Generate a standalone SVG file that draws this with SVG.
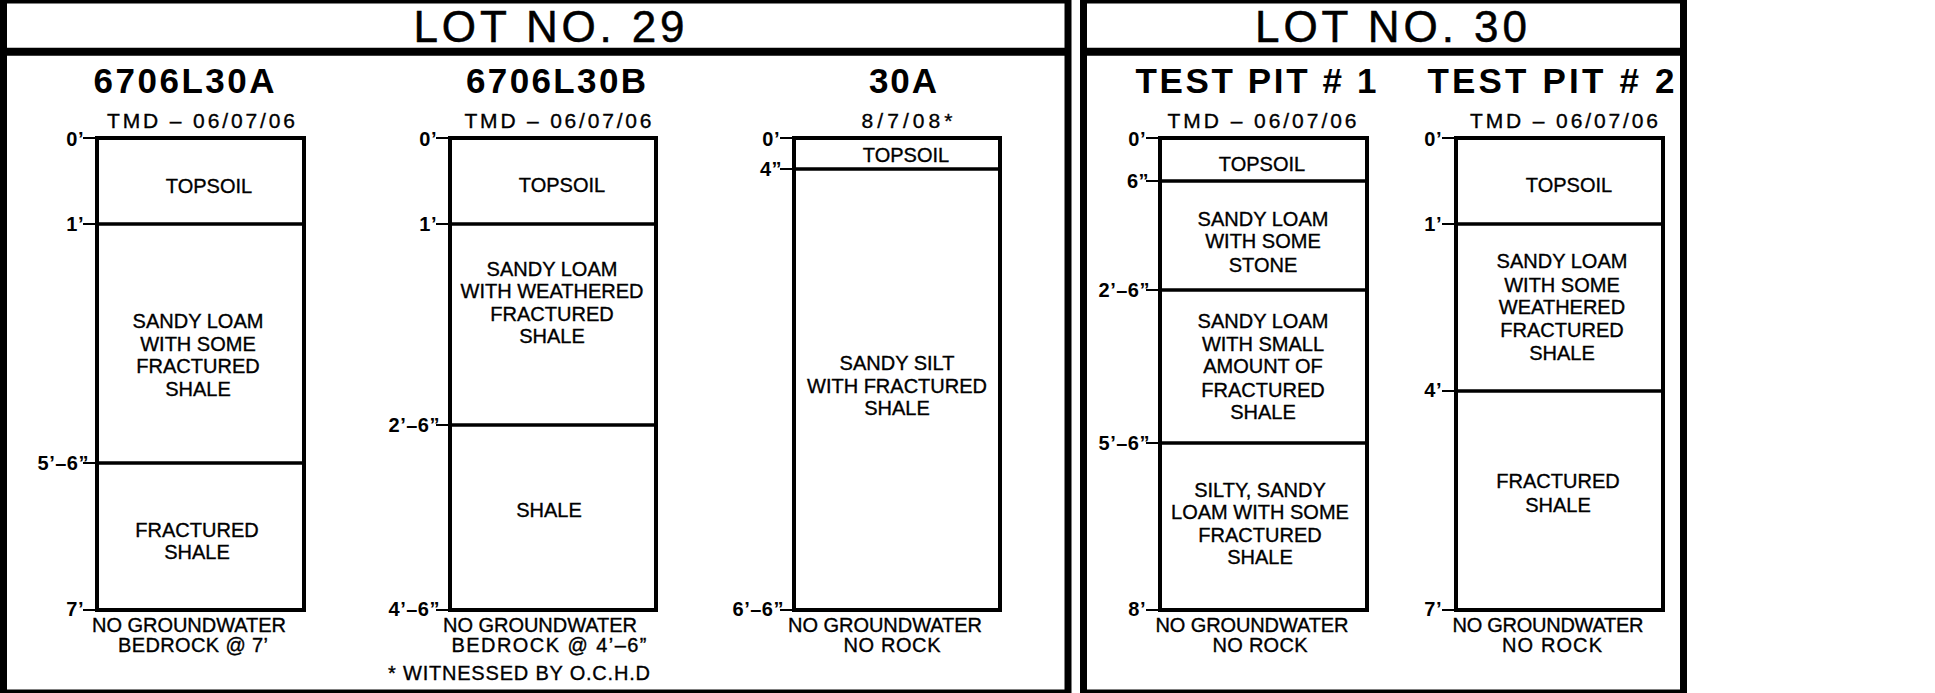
<svg xmlns="http://www.w3.org/2000/svg" width="1935" height="693" viewBox="0 0 1935 693">
<style>
.frame{fill:none;stroke:#000;stroke-width:7}
.div{stroke:#000;stroke-width:8}
.box{fill:none;stroke:#000;stroke-width:4}
.layer{stroke:#000;stroke-width:3.5}
.tick{stroke:#000;stroke-width:2}
text{font-family:"Liberation Sans",Arial,sans-serif;fill:#000}
.t{font-size:20px;text-anchor:middle;stroke:#000;stroke-width:0.35}
.d{font-size:21px;text-anchor:middle;stroke:#000;stroke-width:0.35}
.title{font-size:44px;text-anchor:middle;stroke:#000;stroke-width:0.5}
.hdr{font-size:35px;font-weight:bold;text-anchor:middle}
.dep{font-size:20px;font-weight:bold;text-anchor:end;letter-spacing:0.5px}
</style>
<rect width="1935" height="693" fill="#fff"/>
<g id="lot29-frame">
<rect class="frame" x="3.5" y="0" width="1064.5" height="693"/>
<line class="div" x1="3.5" y1="51.7" x2="1068" y2="51.7"/>
<text class="title" x="549" y="42" textLength="271" lengthAdjust="spacing">LOT NO. 29</text>
<text class="t" x="519" y="680" textLength="262" lengthAdjust="spacing">* WITNESSED BY O.C.H.D</text>
</g>
<g id="lot30-frame">
<rect class="frame" x="1083.5" y="0" width="600" height="693"/>
<line class="div" x1="1083.5" y1="51.7" x2="1683.5" y2="51.7"/>
<text class="title" x="1391" y="42" textLength="272" lengthAdjust="spacing">LOT NO. 30</text>
</g>
<g id="boring-6706L30A">
<text class="hdr" x="184" y="93" textLength="181" lengthAdjust="spacing">6706L30A</text>
<text class="d" x="201" y="128" textLength="188" lengthAdjust="spacing">TMD – 06/07/06</text>
<rect class="box" x="97" y="138" width="207" height="472"/>
<line class="layer" x1="97" y1="224" x2="304" y2="224"/>
<line class="layer" x1="97" y1="463" x2="304" y2="463"/>
<line class="tick" x1="83" y1="138" x2="97" y2="138"/>
<line class="tick" x1="83" y1="224" x2="97" y2="224"/>
<line class="tick" x1="83" y1="463" x2="97" y2="463"/>
<line class="tick" x1="83" y1="610" x2="97" y2="610"/>
<text class="dep" x="84" y="146">0’</text>
<text class="dep" x="84" y="231">1’</text>
<text class="dep" x="89" y="470">5’–6”</text>
<text class="dep" x="84" y="616">7’</text>
<text class="t" x="209" y="193">TOPSOIL</text>
<text class="t" x="198" y="328">SANDY LOAM</text>
<text class="t" x="198" y="351">WITH SOME</text>
<text class="t" x="198" y="373">FRACTURED</text>
<text class="t" x="198" y="396">SHALE</text>
<text class="t" x="197" y="537">FRACTURED</text>
<text class="t" x="197" y="559">SHALE</text>
<text class="t" x="189" y="632" textLength="194" lengthAdjust="spacing">NO GROUNDWATER</text>
<text class="t" x="193" y="652" textLength="150" lengthAdjust="spacing">BEDROCK @ 7’</text>
</g>
<g id="boring-6706L30B">
<text class="hdr" x="556" y="93" textLength="180" lengthAdjust="spacing">6706L30B</text>
<text class="d" x="558" y="128" textLength="187" lengthAdjust="spacing">TMD – 06/07/06</text>
<rect class="box" x="450" y="138" width="206" height="472"/>
<line class="layer" x1="450" y1="224" x2="656" y2="224"/>
<line class="layer" x1="450" y1="425" x2="656" y2="425"/>
<line class="tick" x1="436" y1="138" x2="450" y2="138"/>
<line class="tick" x1="436" y1="224" x2="450" y2="224"/>
<line class="tick" x1="436" y1="425" x2="450" y2="425"/>
<line class="tick" x1="436" y1="610" x2="450" y2="610"/>
<text class="dep" x="437" y="146">0’</text>
<text class="dep" x="437" y="231">1’</text>
<text class="dep" x="440" y="432">2’–6”</text>
<text class="dep" x="440" y="616">4’–6”</text>
<text class="t" x="562" y="192">TOPSOIL</text>
<text class="t" x="552" y="276">SANDY LOAM</text>
<text class="t" x="552" y="298">WITH WEATHERED</text>
<text class="t" x="552" y="321">FRACTURED</text>
<text class="t" x="552" y="343">SHALE</text>
<text class="t" x="549" y="517">SHALE</text>
<text class="t" x="540" y="632" textLength="194" lengthAdjust="spacing">NO GROUNDWATER</text>
<text class="t" x="549" y="652" textLength="195" lengthAdjust="spacing">BEDROCK @ 4’–6”</text>
</g>
<g id="boring-30A">
<text class="hdr" x="903" y="93" textLength="68" lengthAdjust="spacing">30A</text>
<text class="d" x="907" y="128" textLength="91" lengthAdjust="spacing">8/7/08*</text>
<rect class="box" x="794" y="138" width="206" height="472"/>
<line class="layer" x1="794" y1="169" x2="1000" y2="169"/>
<line class="tick" x1="780" y1="138" x2="794" y2="138"/>
<line class="tick" x1="780" y1="169" x2="794" y2="169"/>
<line class="tick" x1="780" y1="610" x2="794" y2="610"/>
<text class="dep" x="780" y="146">0’</text>
<text class="dep" x="782" y="176">4”</text>
<text class="dep" x="784" y="616">6’–6”</text>
<text class="t" x="906" y="162">TOPSOIL</text>
<text class="t" x="897" y="370">SANDY SILT</text>
<text class="t" x="897" y="393">WITH FRACTURED</text>
<text class="t" x="897" y="415">SHALE</text>
<text class="t" x="885" y="632" textLength="194" lengthAdjust="spacing">NO GROUNDWATER</text>
<text class="t" x="892" y="652" textLength="97" lengthAdjust="spacing">NO ROCK</text>
</g>
<g id="test-pit-1">
<text class="hdr" x="1256" y="93" textLength="241" lengthAdjust="spacing">TEST PIT # 1</text>
<text class="d" x="1262" y="128" textLength="189" lengthAdjust="spacing">TMD – 06/07/06</text>
<rect class="box" x="1160" y="138" width="207" height="472"/>
<line class="layer" x1="1160" y1="181" x2="1367" y2="181"/>
<line class="layer" x1="1160" y1="290" x2="1367" y2="290"/>
<line class="layer" x1="1160" y1="443" x2="1367" y2="443"/>
<line class="tick" x1="1146" y1="138" x2="1160" y2="138"/>
<line class="tick" x1="1146" y1="181" x2="1160" y2="181"/>
<line class="tick" x1="1146" y1="290" x2="1160" y2="290"/>
<line class="tick" x1="1146" y1="443" x2="1160" y2="443"/>
<line class="tick" x1="1146" y1="610" x2="1160" y2="610"/>
<text class="dep" x="1146" y="146">0’</text>
<text class="dep" x="1149" y="188">6”</text>
<text class="dep" x="1150" y="297">2’–6”</text>
<text class="dep" x="1150" y="450">5’–6”</text>
<text class="dep" x="1146" y="616">8’</text>
<text class="t" x="1262" y="171">TOPSOIL</text>
<text class="t" x="1263" y="226">SANDY LOAM</text>
<text class="t" x="1263" y="248">WITH SOME</text>
<text class="t" x="1263" y="272">STONE</text>
<text class="t" x="1263" y="328">SANDY LOAM</text>
<text class="t" x="1263" y="351">WITH SMALL</text>
<text class="t" x="1263" y="373">AMOUNT OF</text>
<text class="t" x="1263" y="397">FRACTURED</text>
<text class="t" x="1263" y="419">SHALE</text>
<text class="t" x="1260" y="497">SILTY, SANDY</text>
<text class="t" x="1260" y="519">LOAM WITH SOME</text>
<text class="t" x="1260" y="542">FRACTURED</text>
<text class="t" x="1260" y="564">SHALE</text>
<text class="t" x="1252" y="632" textLength="193" lengthAdjust="spacing">NO GROUNDWATER</text>
<text class="t" x="1260" y="652" textLength="95" lengthAdjust="spacing">NO ROCK</text>
</g>
<g id="test-pit-2">
<text class="hdr" x="1551" y="93" textLength="247" lengthAdjust="spacing">TEST PIT # 2</text>
<text class="d" x="1564" y="128" textLength="188" lengthAdjust="spacing">TMD – 06/07/06</text>
<rect class="box" x="1456" y="138" width="207" height="472"/>
<line class="layer" x1="1456" y1="224" x2="1663" y2="224"/>
<line class="layer" x1="1456" y1="391" x2="1663" y2="391"/>
<line class="tick" x1="1442" y1="138" x2="1456" y2="138"/>
<line class="tick" x1="1442" y1="224" x2="1456" y2="224"/>
<line class="tick" x1="1442" y1="391" x2="1456" y2="391"/>
<line class="tick" x1="1442" y1="610" x2="1456" y2="610"/>
<text class="dep" x="1442" y="146">0’</text>
<text class="dep" x="1442" y="231">1’</text>
<text class="dep" x="1442" y="397">4’</text>
<text class="dep" x="1442" y="616">7’</text>
<text class="t" x="1569" y="192">TOPSOIL</text>
<text class="t" x="1562" y="268">SANDY LOAM</text>
<text class="t" x="1562" y="292">WITH SOME</text>
<text class="t" x="1562" y="314">WEATHERED</text>
<text class="t" x="1562" y="337">FRACTURED</text>
<text class="t" x="1562" y="360">SHALE</text>
<text class="t" x="1558" y="488">FRACTURED</text>
<text class="t" x="1558" y="512">SHALE</text>
<text class="t" x="1548" y="632" textLength="191" lengthAdjust="spacing">NO GROUNDWATER</text>
<text class="t" x="1552" y="652" textLength="100" lengthAdjust="spacing">NO ROCK</text>
</g>
<g id="connectors"/>
</svg>
